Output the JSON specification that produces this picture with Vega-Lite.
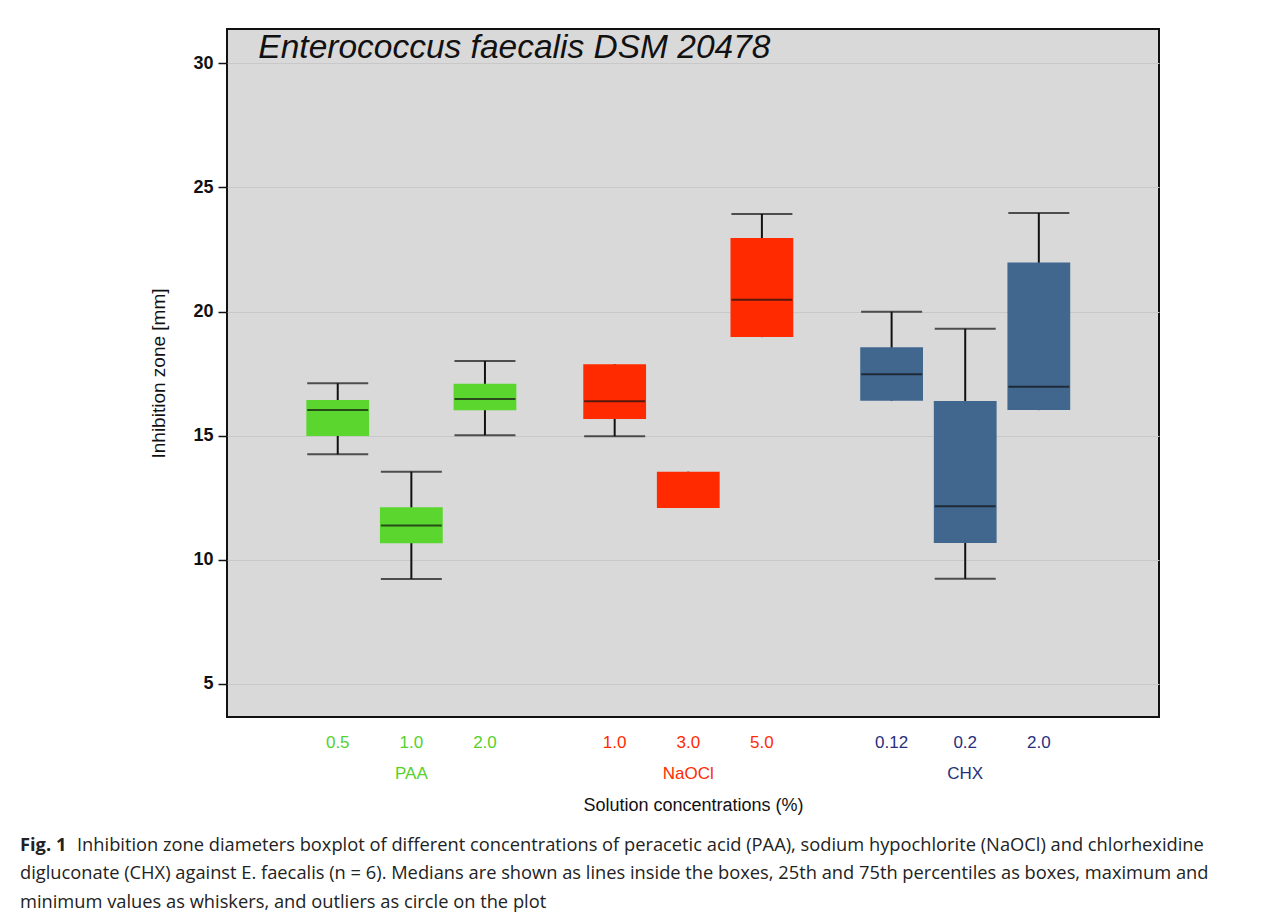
{
  "$schema": "https://vega.github.io/schema/vega-lite/v6.json",
  "autosize": {"type": "none"},
  "width": 932,
  "height": 688,
  "padding": {"left": 227, "top": 29, "right": 125, "bottom": 198},
  "background": "white",
  "title": {
    "text": "Fig. 1",
    "subtitle": [
      "\u200b\u00a0\u00a0\u00a0\u00a0\u00a0\u00a0\u00a0\u00a0\u00a0\u00a0\u00a0\u00a0Inhibition zone diameters boxplot of different concentrations of peracetic acid (PAA), sodium hypochlorite (NaOCl) and chlorhexidine",
      "digluconate (CHX) against E. faecalis (n = 6). Medians are shown as lines inside the boxes, 25th and 75th percentiles as boxes, maximum and",
      "minimum values as whiskers, and outliers as circle on the plot"
    ],
    "orient": "bottom",
    "anchor": "start",
    "frame": "group",
    "dx": -207,
    "offset": 23,
    "limit": 1300,
    "font": "Open Sans",
    "fontSize": 18.3,
    "fontWeight": "bold",
    "color": "#222222",
    "subtitleFont": "Open Sans",
    "subtitleFontSize": 18.3,
    "subtitleFontWeight": "normal",
    "subtitleColor": "#222222",
    "subtitleLineHeight": 28.3,
    "subtitlePadding": -18.3
  },
  "layer": [
    {
      "data": {
        "values": [
          {"group": "PAA", "conc": "0.5", "min": 14.25, "q1": 14.99, "median": 16.03, "q3": 16.44, "max": 17.11},
          {"group": "PAA", "conc": "1.0", "min": 9.23, "q1": 10.67, "median": 11.38, "q3": 12.12, "max": 13.55},
          {"group": "PAA", "conc": "2.0", "min": 15.02, "q1": 16.02, "median": 16.48, "q3": 17.09, "max": 18.01},
          {"group": "NaOCl", "conc": "1.0", "min": 14.98, "q1": 15.67, "median": 16.39, "q3": 17.88, "max": 17.88},
          {"group": "NaOCl", "conc": "3.0", "min": 12.09, "q1": 12.09, "median": 12.09, "q3": 13.55, "max": 13.55},
          {"group": "NaOCl", "conc": "5.0", "min": 18.97, "q1": 18.97, "median": 20.48, "q3": 22.96, "max": 23.93},
          {"group": "CHX", "conc": "0.12", "min": 16.41, "q1": 16.41, "median": 17.47, "q3": 18.56, "max": 19.99},
          {"group": "CHX", "conc": "0.2", "min": 9.24, "q1": 10.68, "median": 12.16, "q3": 16.40, "max": 19.31},
          {"group": "CHX", "conc": "2.0", "min": 16.03, "q1": 16.03, "median": 16.97, "q3": 21.98, "max": 23.97}
        ]
      },
      "transform": [
        {"window": [{"op": "row_number", "as": "idx"}], "groupby": ["group"]}
      ],
      "encoding": {
        "x": {
          "field": "group",
          "type": "nominal",
          "sort": ["PAA", "NaOCl", "CHX"],
          "scale": {"paddingInner": 0.2026, "paddingOuter": 0.284, "align": 0.47},
          "axis": {
            "title": "Solution concentrations (%)",
            "labelAngle": 0,
            "ticks": false,
            "domain": false,
            "labelPadding": 56,
            "labelFont": "Liberation Sans Narrow, Liberation Sans, Arial",
            "labelFontSize": 17,
            "labelBaseline": "middle",
            "labelColor": {"expr": "datum.value === 'PAA' ? '#55d12b' : (datum.value === 'NaOCl' ? '#ff2b00' : '#272f7e')"},
            "titleFont": "Liberation Sans Narrow, Liberation Sans, Arial",
            "titleFontSize": 18,
            "titleFontWeight": "normal",
            "titleColor": "#111111",
            "titlePadding": 15
          }
        },
        "xOffset": {
          "field": "idx",
          "type": "ordinal",
          "scale": {"paddingInner": 0.147, "paddingOuter": 0.0735}
        }
      },
      "layer": [
        {
          "mark": {"type": "rule", "color": "#111111", "strokeWidth": 2},
          "encoding": {
            "y": {
              "field": "min",
              "type": "quantitative",
              "scale": {"domain": [3.67, 31.38], "nice": false, "zero": false},
              "axis": {
                "values": [5, 10, 15, 20, 25, 30],
                "title": "Inhibition zone [mm]",
                "grid": true,
                "gridColor": "#c8c8c8",
                "gridWidth": 1,
                "domain": false,
                "ticks": true,
                "tickColor": "#111111",
                "tickSize": 9,
                "tickWidth": 1.5,
                "labelFont": "Liberation Sans, Arial",
                "labelFontSize": 18,
                "labelFontWeight": "bold",
                "labelColor": "#111111",
                "labelPadding": 5,
                "titleFont": "Liberation Sans, Arial",
                "titleFontSize": 19,
                "titleFontWeight": "normal",
                "titleColor": "#111111",
                "titlePadding": 24
              }
            },
            "y2": {"field": "max"}
          }
        },
        {
          "mark": {"type": "bar", "strokeWidth": 0},
          "encoding": {
            "y": {"field": "q1", "type": "quantitative"},
            "y2": {"field": "q3"},
            "color": {
              "field": "group",
              "type": "nominal",
              "scale": {"domain": ["PAA", "NaOCl", "CHX"], "range": ["#5ad62e", "#ff2a00", "#41678f"]},
              "legend": null
            }
          }
        },
        {
          "transform": [{"filter": "datum.median > datum.q1 && datum.median < datum.q3"}],
          "mark": {"type": "tick", "color": "#111111", "thickness": 2, "size": 61},
          "encoding": {"y": {"field": "median", "type": "quantitative"}}
        },
        {
          "transform": [{"filter": "datum.max > datum.q3"}],
          "mark": {"type": "tick", "color": "#111111", "thickness": 2, "size": 61},
          "encoding": {"y": {"field": "max", "type": "quantitative"}}
        },
        {
          "transform": [{"filter": "datum.min < datum.q1"}],
          "mark": {"type": "tick", "color": "#111111", "thickness": 2, "size": 61},
          "encoding": {"y": {"field": "min", "type": "quantitative"}}
        },
        {
          "mark": {"type": "text", "font": "Liberation Sans Narrow, Liberation Sans, Arial", "fontSize": 17, "baseline": "middle", "clip": false},
          "encoding": {
            "y": {"datum": 2.62, "type": "quantitative"},
            "text": {"field": "conc"},
            "color": {
              "field": "group",
              "type": "nominal",
              "scale": {"domain": ["PAA", "NaOCl", "CHX"], "range": ["#55d12b", "#ff2b00", "#272f7e"]},
              "legend": null
            }
          }
        }
      ],
      "resolve": {"scale": {"color": "independent"}}
    },
    {
      "data": {"values": [{"species": "Enterococcus faecalis DSM 20478"}]},
      "mark": {"type": "text", "font": "Liberation Sans, Arial", "fontSize": 33.5, "fontStyle": "italic", "align": "left", "baseline": "alphabetic", "color": "#111111", "dx": -153},
      "encoding": {
        "x": {"datum": "PAA", "type": "nominal"},
        "y": {"datum": 30.22, "type": "quantitative"},
        "text": {"field": "species"}
      }
    }
  ],
  "config": {
    "view": {"fill": "#d9d9d9", "stroke": "#111111", "strokeWidth": 2}
  }
}
